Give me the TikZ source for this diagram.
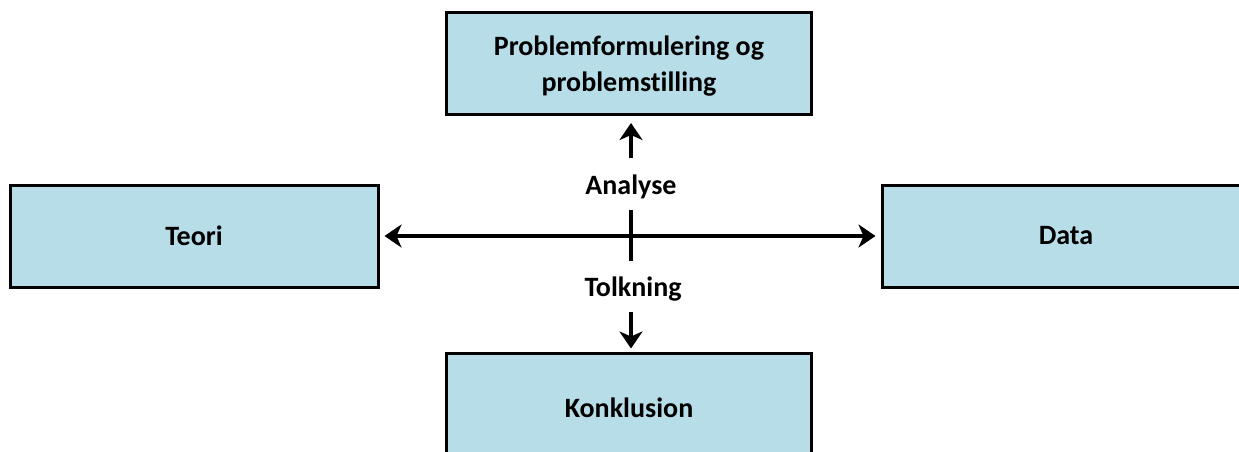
\documentclass[tikz,border=0pt]{standalone}
\usepackage{fontspec}
\setmainfont[Ligatures={NoCommon}]{Carlito}
\usetikzlibrary{arrows.meta}

\definecolor{boxfill}{HTML}{B7DDE8}

\tikzset{
  box/.style={draw=black, fill=boxfill, line width=3pt, rectangle,
    minimum width=365pt, minimum height=102pt, inner sep=0pt,
    align=center, font=\fontsize{28}{36}\selectfont\bfseries},
  lbl/.style={inner sep=0pt, font=\fontsize{28}{36}\selectfont\bfseries},
  conn/.style={line width=4pt, draw=black},
  head/.tip={Stealth[length=17pt,width=23pt,inset=5pt]},
  tip/.style={-head},
}

\begin{document}
\begin{tikzpicture}[x=1pt, y=-1pt]
  \useasboundingbox (0,0) rectangle (1239,451);
  \clip (0,0) rectangle (1239,451);

  % the four blocks
  \node[box] (prob) at (629,63.5) {};
  \node[align=center, inner sep=0pt, font=\fontsize{28}{36}\selectfont\bfseries]
    (probtext) at (629,66) {Problemformulering og\\problemstilling};
  \node[box, minimum width=368pt] (teori) at (194,236) {Teori};
  \node[box, minimum width=368pt] (data) at (1066,236) {Data};
  \node[box, minimum height=110pt] (konk) at (629,408) {Konklusion};

  % labels on the vertical axis
  \node[lbl] (analyse) at (631,187) {Analyse};
  \node[lbl] (tolk) at (633,289) {Tolkning};

  % free ends of the vertical strokes
  \coordinate (upstart) at (631,158);
  \coordinate (downstart) at (631,312);
  \coordinate (bartop) at (631,210);
  \coordinate (barbot) at (631,261);

  % horizontal double arrow between Teori and Data
  \draw[conn, head-head, shorten <=5pt, shorten >=5pt] (teori.east) -- (data.west);

  % short crossing bar
  \draw[conn] (bartop) -- (barbot);

  % arrows to the upper and lower blocks
  \draw[conn, tip, shorten >=7pt] (upstart) -- (upstart |- prob.south);
  \draw[conn, tip, shorten >=3pt] (downstart) -- (downstart |- konk.north);
\end{tikzpicture}
\end{document}
